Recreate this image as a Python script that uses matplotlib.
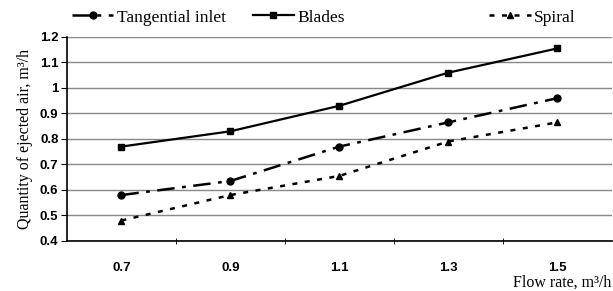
import matplotlib.pyplot as plt
from matplotlib.ticker import FixedLocator, FuncFormatter

# flow rate categories, m3/h
flow = ['0.7', '0.9', '1.1', '1.3', '1.5']

tangential = [0.58, 0.635, 0.77, 0.865, 0.96]
blades = [0.77, 0.83, 0.93, 1.06, 1.155]
spiral = [0.48, 0.58, 0.655, 0.79, 0.865]

yticks = [0.4, 0.5, 0.6, 0.7, 0.8, 0.9, 1.0, 1.1, 1.2]

serif = 'Liberation Serif'
sans = 'Liberation Sans'

fig = plt.figure(figsize=(6.13, 2.91), dpi=100)
ax = fig.add_axes([0.109, 0.172, 0.889, 0.701])

x = list(range(len(flow)))
ax.plot(x, tangential, color='black', lw=1.8, dashes=(7, 3, 1.5, 3),
        marker='o', ms=5, label='Tangential inlet')
ax.plot(x, blades, color='black', lw=1.6, marker='s', ms=5, label='Blades')
ax.plot(x, spiral, color='black', lw=1.8, dashes=(2, 3),
        marker='^', ms=5, label='Spiral')

ax.set_xlim(-0.5, len(flow) - 0.5)
ax.set_ylim(0.4, 1.2)
ax.set_yticks(yticks)
ax.yaxis.set_major_formatter(FuncFormatter(lambda v, p: f'{v:g}'))
ax.set_xticks(x)
ax.set_xticklabels(flow)
ax.xaxis.set_minor_locator(FixedLocator([i + 0.5 for i in x[:-1]]))
ax.tick_params(axis='x', which='major', length=0, pad=15)
ax.tick_params(axis='x', which='minor', length=4, direction='inout')
ax.tick_params(axis='y', length=4, direction='out', pad=2)
for lbl in ax.get_xticklabels() + ax.get_yticklabels():
    lbl.set_fontfamily(sans)
    lbl.set_fontweight('bold')
    lbl.set_fontsize(9.5)

ax.grid(axis='y', color='#888888', lw=1.0)
ax.set_axisbelow(True)
for s in ['top', 'right']:
    ax.spines[s].set_visible(False)
ax.spines['left'].set_linewidth(1.2)
ax.spines['bottom'].set_linewidth(1.2)

ax.set_ylabel('Quantity of ejected air, m³/h', fontfamily=serif,
              fontsize=11.5, labelpad=5)
fig.text(0.998, 0.03, 'Flow rate, m³/h', ha='right', va='center',
         fontfamily=serif, fontsize=11.5)

# legend entries placed across the top like the original
handles = ax.get_lines()
xs = [0.117, 0.412, 0.798]
for h, xpos in zip(handles, xs):
    fig.legend([h], [h.get_label()], loc='center left',
               bbox_to_anchor=(xpos, 0.94), frameon=False,
               prop={'family': serif, 'size': 12.5},
               handlelength=2.4, handletextpad=0.2, borderpad=0,
               borderaxespad=0)

fig.savefig('out.png', dpi=100)
